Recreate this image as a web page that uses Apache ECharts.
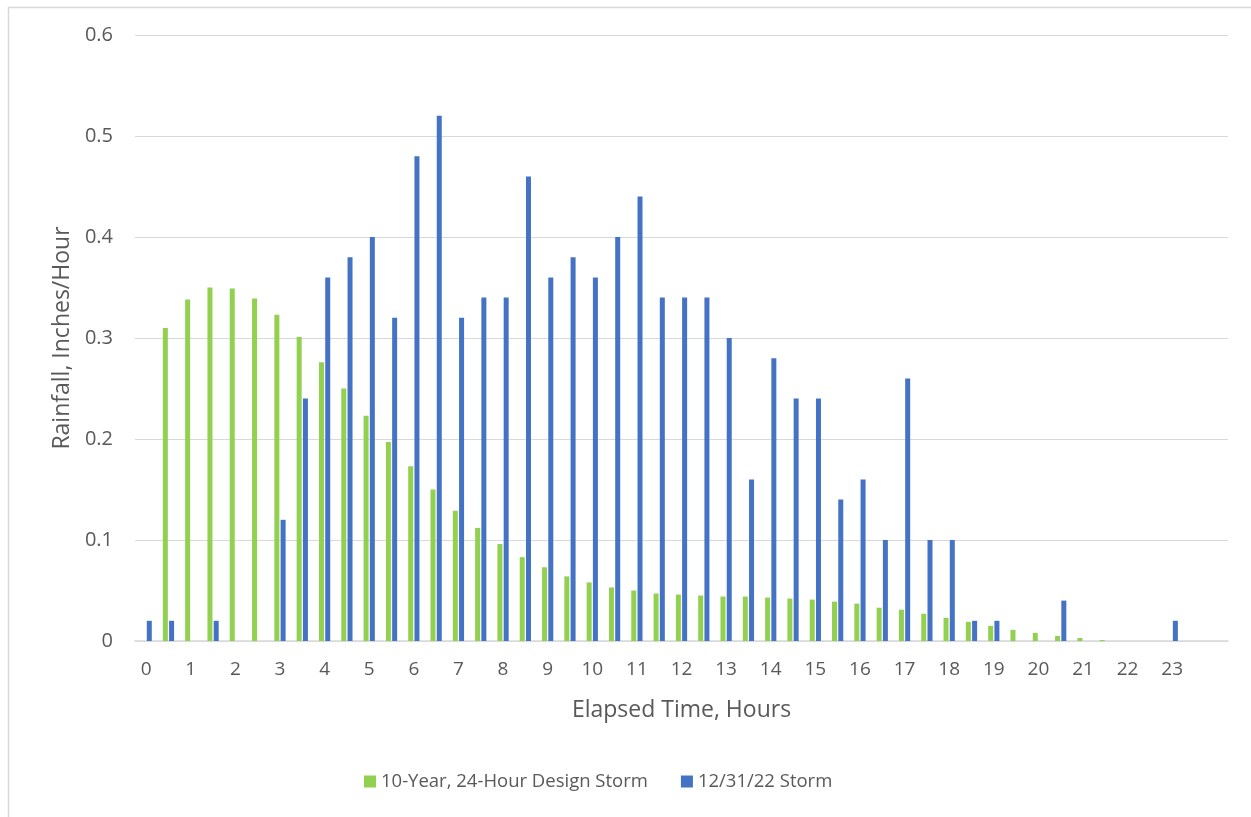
<!DOCTYPE html>
<html>
<head>
<meta charset="utf-8">
<script src="https://cdn.jsdelivr.net/npm/echarts@6/dist/echarts.min.js"></script>
<style>
  html, body { margin: 0; padding: 0; background: #ffffff; }
  #chart { width: 1251px; height: 817px; }
</style>
</head>
<body>
<div id="chart"></div>
<script>
// Elapsed time in half-hour steps (hours)
const hours = [
  0, 0.5, 1, 1.5, 2, 2.5, 3, 3.5, 4, 4.5, 5, 5.5, 6, 6.5, 7, 7.5,
  8, 8.5, 9, 9.5, 10, 10.5, 11, 11.5, 12, 12.5, 13, 13.5, 14, 14.5, 15, 15.5,
  16, 16.5, 17, 17.5, 18, 18.5, 19, 19.5, 20, 20.5, 21, 21.5, 22, 22.5, 23, 23.5, 24
];

// 10-year, 24-hour design storm intensity (in/hr)
const designStorm = [
  0, 0.310, 0.338, 0.350, 0.349, 0.339, 0.323, 0.301, 0.276, 0.250, 0.223, 0.197, 0.173, 0.150, 0.129, 0.112,
  0.096, 0.083, 0.073, 0.064, 0.058, 0.053, 0.050, 0.047, 0.046, 0.045, 0.044, 0.044, 0.043, 0.042, 0.041, 0.039,
  0.037, 0.033, 0.031, 0.027, 0.023, 0.019, 0.015, 0.011, 0.008, 0.005, 0.003, 0.001, 0, 0, 0, 0, 0
];

// Observed 12/31/22 storm intensity (in/hr)
const observedStorm = [
  0.02, 0.02, 0, 0.02, 0, 0, 0.12, 0.24, 0.36, 0.38, 0.40, 0.32, 0.48, 0.52, 0.32, 0.34,
  0.34, 0.46, 0.36, 0.38, 0.36, 0.40, 0.44, 0.34, 0.34, 0.34, 0.30, 0.16, 0.28, 0.24, 0.24, 0.14,
  0.16, 0.10, 0.26, 0.10, 0.10, 0.02, 0.02, 0, 0, 0.04, 0, 0, 0, 0, 0.02, 0, 0
];

const seriesNames = ['10-Year, 24-Hour Design Storm', '12/31/22 Storm'];
const xTitle = 'Elapsed Time, Hours';
const yTitle = 'Rainfall, Inches/Hour';

const FONT = '"Open Sans", "Liberation Sans", sans-serif';
const TEXT = '#595959';
const GRID = '#d9d9d9';

const chart = echarts.init(document.getElementById('chart'), null, { renderer: 'canvas' });

chart.setOption({
  backgroundColor: '#ffffff',
  animation: false,
  textStyle: { fontFamily: FONT, color: TEXT },
  graphic: [{
    type: 'rect',
    shape: { x: 8.5, y: 7.5, width: 1300, height: 900 },
    style: { fill: 'none', stroke: GRID, lineWidth: 1.5 },
    silent: true,
    z: -10
  }],
  grid: { left: 135, right: 23, top: 35, bottom: 176, containLabel: false },
  legend: {
    left: 364,
    top: 772,
    padding: 0,
    icon: 'rect',
    itemWidth: 12,
    itemHeight: 12,
    itemGap: 33,
    textStyle: { fontFamily: FONT, fontSize: 18.5, color: TEXT },
    data: seriesNames
  },
  xAxis: {
    type: 'category',
    data: hours.map(String),
    name: xTitle,
    nameLocation: 'middle',
    nameGap: 58,
    nameTextStyle: { fontFamily: FONT, fontSize: 23, color: TEXT },
    axisLine: { lineStyle: { color: GRID, width: 1.5 } },
    axisTick: { show: false },
    axisLabel: {
      interval: 1,
      margin: 19,
      fontFamily: FONT,
      fontSize: 19,
      color: TEXT,
      formatter: v => (v === '24' ? '' : v)
    },
    splitLine: { show: false }
  },
  yAxis: {
    type: 'value',
    min: 0,
    max: 0.6,
    interval: 0.1,
    name: yTitle,
    nameLocation: 'middle',
    nameGap: 61,
    nameTextStyle: { fontFamily: FONT, fontSize: 23, color: TEXT },
    axisLine: { show: false },
    axisTick: { show: false },
    axisLabel: { margin: 22, fontFamily: FONT, fontSize: 20, color: TEXT },
    splitLine: { lineStyle: { color: GRID, width: 1.2 } }
  },
  series: [
    {
      name: seriesNames[0],
      type: 'bar',
      data: designStorm,
      barWidth: 5,
      barGap: '25%',
      itemStyle: { color: '#92D050' }
    },
    {
      name: seriesNames[1],
      type: 'bar',
      data: observedStorm,
      barWidth: 5,
      itemStyle: { color: '#4472C4' }
    }
  ]
});
</script>
</body>
</html>
